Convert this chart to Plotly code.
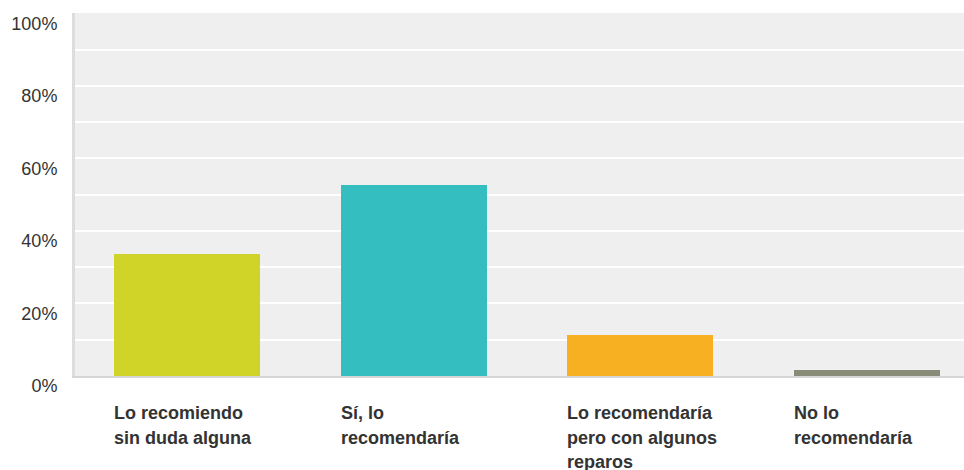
import plotly.graph_objects as go

categories = ["Lo recomiendo<br>sin duda alguna", "Sí, lo<br>recomendaría",
              "Lo recomendaría<br>pero con algunos<br>reparos", "No lo<br>recomendaría"]
values = [33.7, 52.6, 11.3, 1.6]
bar_colors = ["#D0D428", "#34BEC0", "#F7B021", "#898B79"]
tick_vals = [0, 10, 20, 30, 40, 50, 60, 70, 80, 90, 100]
tick_text = ["0%", "", "20%", "", "40%", "", "60%", "", "80%", "", "100%"]

BAR_W = 0.645
x_idx = list(range(len(categories)))

fig = go.Figure()
fig.add_trace(go.Bar(x=x_idx, y=values, width=BAR_W, marker=dict(color=bar_colors, line=dict(width=0)),
                     hoverinfo="skip"))

annotations = []
for i, cat in enumerate(categories):
    for j, line in enumerate(cat.split("<br>")):
        annotations.append(dict(x=i - BAR_W / 2, xref="x", xanchor="left", xshift=-2,
                                y=0, yref="y", yanchor="top", yshift=-25 - 24.5 * j,
                                text=line, showarrow=False, align="left",
                                font=dict(family="Liberation Sans, Arial, sans-serif", size=18,
                                          color="#333333", weight="bold")))

fig.update_layout(
    width=964, height=470,
    margin=dict(l=75, r=0, t=13, b=94),
    paper_bgcolor="white", plot_bgcolor="#EFEFEF",
    showlegend=False, bargap=0,
    annotations=annotations,
    font=dict(family="Liberation Sans, Arial, sans-serif", color="#333333"),
)
fig.update_xaxes(range=[-0.494, 3.428], showgrid=False, zeroline=False, showticklabels=False,
                 showline=True, linecolor="#D6D6D6", linewidth=2, ticks="", fixedrange=True)
fig.update_yaxes(range=[0, 100.1], tickvals=tick_vals, ticktext=tick_text, showgrid=True,
                 gridcolor="white", gridwidth=2, zeroline=False, showline=True,
                 linecolor="#DDDDDD", linewidth=3, ticks="", ticklabelstandoff=11,
                 ticklabelshift=10, tickfont=dict(size=18, color="#333333"), fixedrange=True)

fig.write_html("out.html", config={"displayModeBar": False},
               post_script="document.body.style.margin='0';document.body.style.overflow='hidden';")
